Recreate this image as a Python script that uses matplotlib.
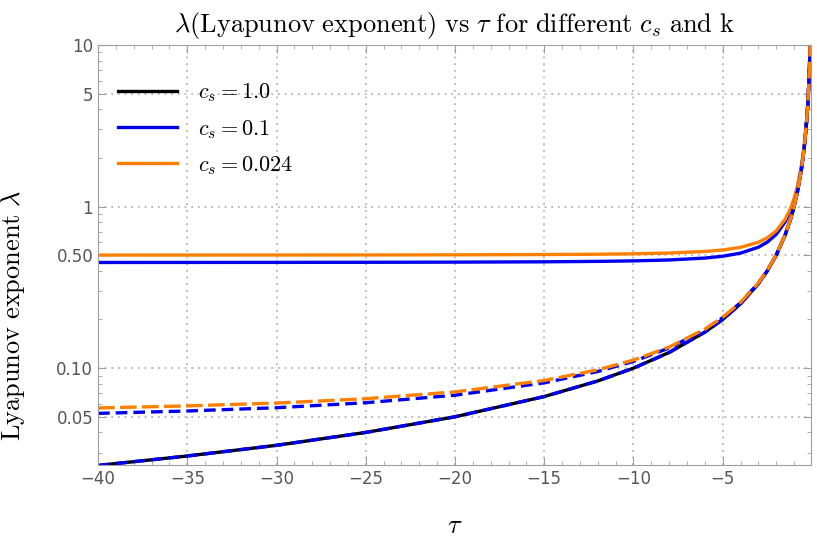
import matplotlib
matplotlib.use('Agg')
import matplotlib.pyplot as plt
from matplotlib.ticker import FixedLocator, LogLocator, MultipleLocator, NullFormatter

plt.rcParams['mathtext.fontset'] = 'cm'

# values
tau = [-40, -35, -30, -25, -20, -15, -12, -10, -8, -6, -5, -4, -3, -2.5, -2,
       -1.5, -1.2, -1.0, -0.8, -0.6, -0.5, -0.4, -0.3, -0.25, -0.2, -0.15, -0.12, -0.1]

# c_s = 1.0 (solid black), also the lower blue dashed curve
lam_cs1 = [0.025, 0.0286, 0.0333, 0.040, 0.050, 0.0667, 0.0833, 0.100, 0.125, 0.167, 0.200,
           0.250, 0.333, 0.400, 0.500, 0.667, 0.833, 1.00, 1.25, 1.67, 2.00, 2.50, 3.33,
           4.00, 5.00, 6.67, 8.33, 10.0]
# c_s = 0.1 solid
lam_cs01 = [0.4507, 0.4509, 0.4512, 0.4518, 0.4528, 0.4549, 0.4577, 0.4610, 0.4670, 0.4799,
            0.4924, 0.5148, 0.5600, 0.6021, 0.6727, 0.8043, 0.9471, 1.0966, 1.3285, 1.7263,
            2.050, 2.540, 3.364, 4.025, 5.020, 6.682, 8.345, 10.01]
# c_s = 0.024 solid
lam_cs0024 = [0.5006, 0.5008, 0.5011, 0.5016, 0.5025, 0.5044, 0.5069, 0.5099, 0.5154, 0.5273,
              0.5385, 0.5590, 0.6009, 0.6403, 0.7071, 0.8333, 0.9718, 1.1180, 1.3463, 1.7400,
              2.0616, 2.5495, 3.3706, 4.031, 5.0249, 6.6853, 8.348, 10.0125]
# dashed curves (other k)
lam_cs01_k = [0.0525, 0.0543, 0.0569, 0.0611, 0.0680, 0.0811, 0.0953, 0.1101, 0.1332, 0.1729,
              0.2053, 0.2542, 0.3365, 0.4027, 0.5021, 0.6682, 0.8346, 1.001, 1.2509, 1.6673,
              2.0005, 2.5004, 3.3336, 4.0003, 5.0002, 6.6668, 8.3334, 10.0]
lam_cs0024_k = [0.0567, 0.0584, 0.0608, 0.0647, 0.0713, 0.0839, 0.0976, 0.1122, 0.1350, 0.1743,
                0.2064, 0.2551, 0.3372, 0.4032, 0.5026, 0.6686, 0.8349, 1.0013, 1.2510, 1.6674,
                2.0006, 2.5005, 3.3337, 4.0003, 5.0002, 6.6668, 8.3334, 10.0]

xticks = [-40, -35, -30, -25, -20, -15, -10, -5]
xtick_labels = ['\u221240', '\u221235', '\u221230', '\u221225', '\u221220', '\u221215', '\u221210', '\u22125']
yticks = [0.05, 0.1, 0.5, 1, 5, 10]
ytick_labels = ['0.05', '0.10', '0.50', '1', '5', '10']

blue = '#0000ee'
orange = '#ff8000'

fig = plt.figure(figsize=(8.17, 5.45), dpi=100)
ax = fig.add_axes([0.12, 0.147, 0.8727, 0.7706])

ax.plot(tau, lam_cs1, color='black', lw=2.4, label=r'$c_s = 1.0$')
ax.plot(tau, lam_cs01, color=blue, lw=2.4, label=r'$c_s = 0.1$')
ax.plot(tau, lam_cs0024, color=orange, lw=2.4, label=r'$c_s = 0.024$')
ax.plot(tau, lam_cs1, color=blue, lw=2.4, ls=(0, (3.5, 1.8)))
ax.plot(tau, lam_cs01_k, color=blue, lw=2.4, ls=(0, (3.5, 1.8)))
ax.plot(tau, lam_cs0024_k, color=orange, lw=2.4, ls=(0, (5, 1.6)))

ax.set_yscale('log')
ax.set_xlim(-40, -0.05)
ax.set_ylim(0.0252, 10)

ax.set_xticks(xticks)
ax.set_xticklabels(xtick_labels)
ax.xaxis.set_minor_locator(MultipleLocator(1))
ax.yaxis.set_major_locator(FixedLocator(yticks))
ax.set_yticklabels(ytick_labels)
ax.yaxis.set_minor_locator(LogLocator(base=10, subs=[2, 3, 4, 6, 7, 8, 9], numticks=20))
ax.yaxis.set_minor_formatter(NullFormatter())

for s in ax.spines.values():
    s.set_color('#a0a0a0')
ax.tick_params(which='both', direction='in', top=True, right=True, colors='#a0a0a0',
               labelcolor='#555555', labelsize=12)
ax.tick_params(which='major', length=6)
ax.tick_params(which='minor', length=3)

# grid lines only where the picture has them
for xv in xticks[1:]:
    ax.axvline(xv, color='#aaaaaa', ls=(0, (1, 3)), lw=1.2, zorder=0)
for yv in yticks[:-1]:
    ax.axhline(yv, color='#aaaaaa', ls=(0, (1, 3)), lw=1.2, zorder=0)

ax.set_title(r'$\lambda(\mathrm{Lyapunov\ exponent})\ \mathrm{vs}\ \tau\ \mathrm{for\ different}\ c_s\ \mathrm{and\ k}$',
             fontsize=19, pad=9)
ax.set_xlabel(r'$\tau$', fontsize=19, labelpad=18)
ax.set_ylabel(r'$\mathrm{Lyapunov\ exponent}\ \lambda$', fontsize=19)
ax.yaxis.set_label_coords(-0.1, 0.357)

ax.legend(loc='upper left', frameon=False, fontsize=16, handlelength=2.65, handletextpad=0.95,
          labelspacing=0.6, bbox_to_anchor=(0.0, 0.96))

fig.savefig('out.png', dpi=100)
